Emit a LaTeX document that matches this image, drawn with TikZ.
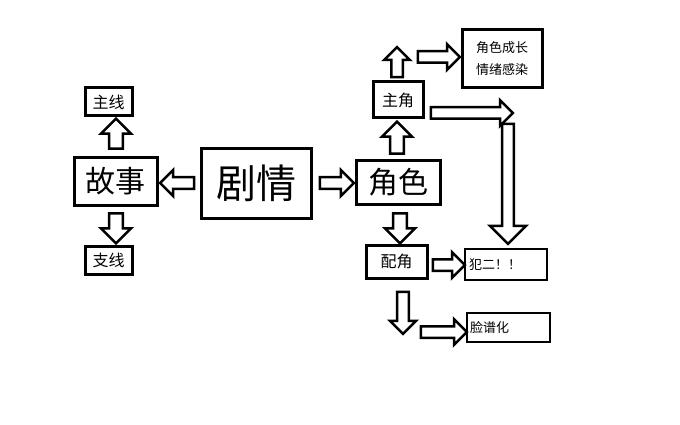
\documentclass[tikz,border=0pt]{standalone}
\usepackage{fontspec}
\setmainfont{Noto Sans CJK SC}
\usetikzlibrary{shapes.arrows}
\begin{document}
\begin{tikzpicture}[x=1pt,y=-1pt,
  box/.style={draw,line width=3pt,inner sep=0pt},
  tbox/.style={draw,line width=2pt,inner sep=0pt},
  barrow/.style={single arrow,draw,line width=2.5pt,inner sep=0pt,text width=0pt,text height=9pt,text depth=0pt,single arrow head extend=7pt,single arrow head indent=0pt,anchor=center},
]
\useasboundingbox (0,0) rectangle (680,425);
\fill[white] (0,0) rectangle (680,425);
\node[box,minimum width=110,minimum height=69,font=\fontsize{40}{40}\selectfont] (juqing) at (256,183.5) {剧情};
\node[box,minimum width=83,minimum height=47,font=\fontsize{30}{30}\selectfont] (gushi) at (115.5,181.5) {故事};
\node[box,minimum width=47,minimum height=28,font=\fontsize{16}{16}\selectfont] (zhuxian) at (108.5,102) {主线};
\node[box,minimum width=47,minimum height=28,font=\fontsize{16}{16}\selectfont] (zhixian) at (108.5,260) {支线};
\node[box,minimum width=84,minimum height=43,font=\fontsize{30}{30}\selectfont] (juese) at (398,182.5) {角色};
\node[box,minimum width=50,minimum height=36,font=\fontsize{16}{16}\selectfont] (zhujiao) at (398,100) {主角};
\node[box,minimum width=80,minimum height=58,font=\fontsize{13}{22}\selectfont,align=center] (chengzhang) at (502,59) {角色成长\\情绪感染};
\node[box,minimum width=61,minimum height=33,font=\fontsize{16}{16}\selectfont] (peijiao) at (396.5,261.5) {配角};
\node[tbox,minimum width=82,minimum height=31,font=\fontsize{13}{13}\selectfont,text width=74pt,align=left] (faner) at (506,264.5) {犯二！！};
\node[tbox,minimum width=83,minimum height=29,font=\fontsize{13}{13}\selectfont,text width=77pt,align=left] (lianpu) at (508.5,327.5) {脸谱化};
% arrows
\node[barrow,minimum height=34pt,minimum width=26pt,rotate=180] (a1) at (180,183) {};
\node[barrow,minimum height=34pt,minimum width=26pt] (a2) at (334,183) {};
\node[barrow,minimum height=30pt,minimum width=30pt,rotate=90] (a3) at (116,137) {};
\node[barrow,minimum height=30pt,minimum width=30pt,rotate=-90] (a4) at (116,225) {};
\node[barrow,minimum height=32pt,minimum width=30pt,rotate=90] (a5) at (397,141) {};
\node[barrow,minimum height=30pt,minimum width=30pt,rotate=-90] (a6) at (400,225) {};
\node[barrow,minimum height=30pt,minimum width=22pt,rotate=90] (a7) at (397,65) {};
\node[barrow,minimum height=42pt,minimum width=24pt] (a8) at (436,57) {};
\node[barrow,minimum height=82pt,minimum width=24pt] (a9) at (469,113) {};
\node[barrow,minimum height=120pt,minimum width=36pt,rotate=-90,single arrow head extend=12pt] (a10) at (508,181) {};
\node[barrow,minimum height=32pt,minimum width=22pt] (a11) at (446,265) {};
\node[barrow,minimum height=42pt,minimum width=26pt,rotate=-90] (a12) at (403,310) {};
\node[barrow,minimum height=46pt,minimum width=22pt] (a13) at (441,332) {};
\end{tikzpicture}
\end{document}
